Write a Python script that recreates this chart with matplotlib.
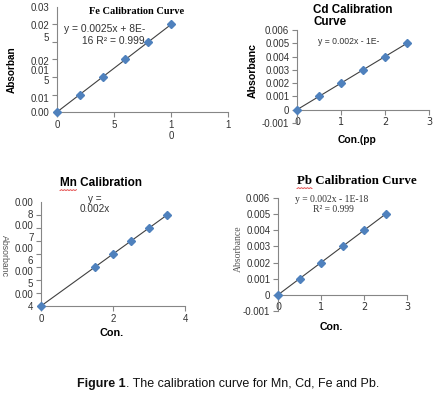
import matplotlib
matplotlib.use('Agg')
import matplotlib.pyplot as plt
import numpy as np
from matplotlib.lines import Line2D

# calibration data (absorbance vs concentration)
fe_x = [0, 2, 4, 6, 8, 10]
fe_y = [0.0, 0.005, 0.010, 0.015, 0.020, 0.025]
cd_x = [0, 0.5, 1, 1.5, 2, 2.5]
cd_y = [0.0, 0.001, 0.002, 0.003, 0.004, 0.005]
mn_x = [0, 1.5, 2, 2.5, 3, 3.5]
mn_y = [0.0, 0.003, 0.004, 0.005, 0.006, 0.007]
pb_x = [0, 0.5, 1, 1.5, 2, 2.5]
pb_y = [0.0, 0.001, 0.002, 0.003, 0.004, 0.005]

# tick labels as they show up (truncated / wrapped in the original)
fe_xticks = [0, 5, 10, 15]
fe_xlabels = ['0', '5', '1\n0', '1']
fe_ytick_marks = [0, 0.005, 0.01, 0.015, 0.02, 0.025, 0.03]
fe_ylab_pos = [0.03, 0.0249, 0.0214, 0.0146, 0.0120, 0.0091, 0.0040, 0.0]
fe_ylab_txt = ['0.03', '0.02', '5', '0.02', '0.01', '5', '0.01', '0.00']

cd_xticks = [0, 1, 2, 3]
cd_yticks = [-0.001, 0, 0.001, 0.002, 0.003, 0.004, 0.005, 0.006]
cd_ylabels = ['-0.001', '0', '0.001', '0.002', '0.003', '0.004', '0.005', '0.006']

mn_xticks = [0, 2, 4]
mn_ytick_marks = [0, 0.001, 0.002, 0.003, 0.004, 0.005, 0.006, 0.007, 0.008]
mn_ylab_pos = [0.008, 0.00711, 0.00622, 0.00533, 0.00444, 0.00356, 0.00267, 0.00178, 0.00089, 0.0]
mn_ylab_txt = ['0.00', '8', '0.00', '7', '0.00', '6', '0.00', '5', '0.00', '4']

pb_xticks = [0, 1, 2, 3]
pb_yticks = cd_yticks
pb_ylabels = cd_ylabels

caption_bold = 'Figure 1'
caption_rest = '. The calibration curve for Mn, Cd, Fe and Pb.'

W, H = 440, 399
SANS = 'Liberation Sans'
SERIF = 'Liberation Serif'
AXC = '#868686'
TXT = '#333333'
MARK = '#4F81BD'

fig = plt.figure(figsize=(W / 100, H / 100), dpi=100)
renderer = fig.canvas.get_renderer()


def px_axes(left, top, right, bottom):
    return fig.add_axes([left / W, 1 - bottom / H, (right - left) / W, (bottom - top) / H])


def ftext(x, y, s, **kw):
    kw.setdefault('family', SANS)
    kw.setdefault('color', 'black')
    return fig.text(x / W, 1 - y / H, s, **kw)


def style(ax):
    for s in ['top', 'right']:
        ax.spines[s].set_visible(False)
    for s in ['left', 'bottom']:
        ax.spines[s].set_color(AXC)
        ax.spines[s].set_linewidth(0.8)
    ax.tick_params(which='both', color=AXC, width=0.8, length=3.5, labelsize=7,
                   labelcolor=TXT, pad=2)
    for lab in ax.get_xticklabels() + ax.get_yticklabels():
        lab.set_family(SANS)


def curve(ax, x, y):
    k, b = np.polyfit(x, y, 1)
    xx = np.array([min(x), max(x)])
    ax.plot(xx, k * xx + b, color='#404040', lw=0.8, zorder=2)
    ax.plot(x, y, 'D', color=MARK, ms=4.5, mec=MARK, zorder=3, clip_on=False)


# ---- Fe ----
ax = px_axes(57, 7, 228, 112)
curve(ax, fe_x, fe_y)
ax.set_xlim(0, 15)
ax.set_ylim(0, 0.03)
ax.set_xticks(fe_xticks)
ax.set_xticklabels(fe_xlabels, family=SANS)
ax.set_yticks(fe_ytick_marks, minor=True)
ax.set_yticks(fe_ylab_pos)
ax.set_yticklabels(fe_ylab_txt, family=SANS)
style(ax)
ax.tick_params(axis='y', which='major', length=0, pad=5.5)

# ---- Cd ----
ax = px_axes(297, 30, 429, 123)
curve(ax, cd_x, cd_y)
ax.set_xlim(0, 3)
ax.set_ylim(-0.001, 0.006)
ax.set_xticks(cd_xticks)
ax.set_yticks(cd_yticks)
ax.set_yticklabels(cd_ylabels)
style(ax)
ax.spines['bottom'].set_position(('data', 0))

# ---- Mn ----
ax = px_axes(41, 202, 185, 306)
curve(ax, mn_x, mn_y)
ax.set_xlim(0, 4)
ax.set_ylim(0, 0.008)
ax.set_xticks(mn_xticks)
ax.set_yticks(mn_ytick_marks, minor=True)
ax.set_yticks(mn_ylab_pos)
ax.set_yticklabels(mn_ylab_txt)
style(ax)
ax.tick_params(axis='y', which='major', length=0, pad=5.5)

# ---- Pb ----
ax = px_axes(278, 198, 407, 311)
curve(ax, pb_x, pb_y)
ax.set_xlim(0, 3)
ax.set_ylim(-0.001, 0.006)
ax.set_xticks(pb_xticks)
ax.set_yticks(pb_yticks)
ax.set_yticklabels(pb_ylabels)
style(ax)
ax.spines['bottom'].set_position(('data', 0))

# ---- titles, equations, axis labels ----
ftext(137, 12, 'Fe Calibration Curve', family=SERIF, weight='bold', fontsize=7.5,
      ha='center', va='center')
ftext(145, 29, 'y = 0.0025x + 8E-', fontsize=7.4, ha='right', va='center', color=TXT)
ftext(145, 41, '16 R² = 0.999', fontsize=7.4, ha='right', va='center', color=TXT)
ftext(12, 70, 'Absorban', weight='bold', fontsize=7.2, rotation=90, ha='center', va='center')

ftext(313, 16, 'Cd Calibration\nCurve', weight='bold', fontsize=8.4, ha='left',
      va='center', linespacing=1.0)
ftext(349, 42, 'y = 0.002x - 1E-', fontsize=6.2, ha='center', va='center', color=TXT)
ftext(253, 71, 'Absorbanc', weight='bold', fontsize=7.6, rotation=90, ha='center', va='center')
ftext(357, 140, 'Con.(pp', weight='bold', fontsize=7.4, ha='center', va='center')

mn_t = ftext(60, 183, 'Mn Calibration', weight='bold', fontsize=8.5, ha='left', va='center')
ftext(95, 204, 'y =\n0.002x', fontsize=7.2, ha='center', va='center', color=TXT,
      linespacing=0.95)
ftext(4.5, 256, 'Absorbanc', fontsize=6.3, rotation=-90, ha='center', va='center', color='#555555')
ftext(112, 333, 'Con.', weight='bold', fontsize=7.8, ha='center', va='center')

pb_t = ftext(297, 181, 'Pb Calibration Curve', family=SERIF, weight='bold', fontsize=9.3,
             ha='left', va='center')
ftext(295, 199, 'y = 0.002x - 1E-18', family=SERIF, fontsize=6.9, ha='left', va='center', color=TXT)
ftext(333, 210, 'R² = 0.999', family=SERIF, fontsize=6.9, ha='center', va='center', color=TXT)
ftext(238, 249, 'Absorbance', family=SERIF, fontsize=7.0, rotation=90, ha='center', va='center',
      color='#555555')
ftext(331, 327, 'Con.', weight='bold', fontsize=7.6, ha='center', va='center')


# spell-check squiggles under "Mn" and "Pb"
def squiggle(t, sub):
    x, y = t.get_position()
    tmp = fig.text(x, y, sub, fontproperties=t.get_fontproperties(), ha='left', va='center')
    bb = tmp.get_window_extent(renderer)
    tmp.remove()
    xs = np.arange(bb.x0, bb.x1 + 0.1, 1.5)
    ys = bb.y0 - 1.5 + 0.8 * (np.arange(len(xs)) % 2)
    fig.add_artist(Line2D(xs / W, ys / H, transform=fig.transFigure, color='#e03030', lw=0.6))


squiggle(mn_t, 'Mn')
squiggle(pb_t, 'Pb')

# ---- caption: scaled to the reference width (77..380 px) ----
cap_kw = dict(family=SANS, stretch='condensed', va='center', ha='left', color='#111111')
cap_size = 9.8
c1 = ftext(77, 384, caption_bold, weight='bold', fontsize=cap_size, **cap_kw)
c2 = ftext(77, 384, caption_rest, fontsize=cap_size, **cap_kw)
total = c1.get_window_extent(renderer).width + c2.get_window_extent(renderer).width
cap_size = cap_size * 303 / total
c1.set_fontsize(cap_size)
c2.set_fontsize(cap_size)
x1 = c1.get_window_extent(renderer).x1
c2.set_position((x1 / W, 1 - 384 / H))

fig.savefig('out.png', dpi=100, facecolor='white')
